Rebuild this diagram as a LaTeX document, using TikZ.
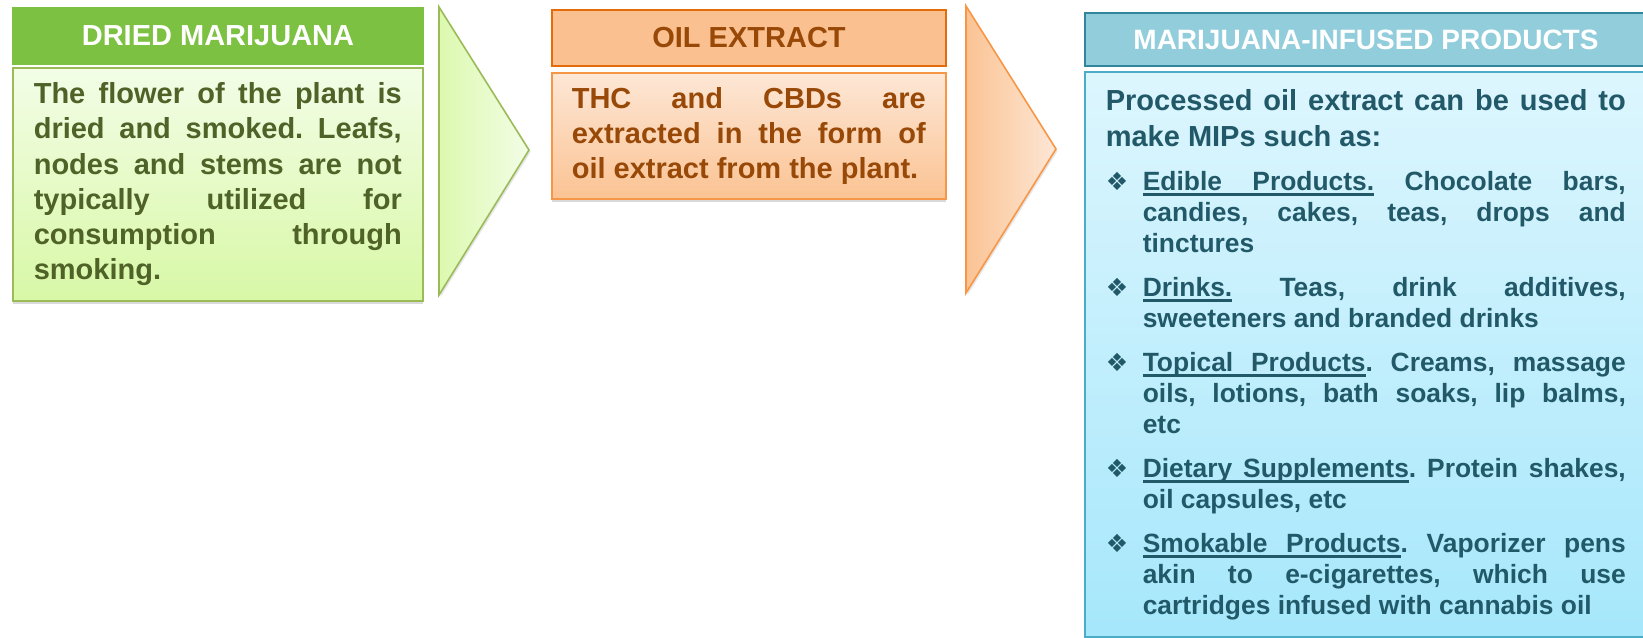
\documentclass[tikz,border=0pt]{standalone}
\usepackage{fontspec}
\setmainfont{Liberation Sans}
\newfontfamily\dingfont{DejaVu Sans}
\usetikzlibrary{positioning,shapes,shadows,fit}

\definecolor{leafhead}{HTML}{7DC142}
\definecolor{leafline}{HTML}{9BBB59}
\definecolor{leaftop}{HTML}{F3FDE7}
\definecolor{leafbot}{HTML}{D8F8A6}
\definecolor{leaftext}{HTML}{4F6228}
\definecolor{oilhead}{HTML}{FAC090}
\definecolor{oilline}{HTML}{E46C0A}
\definecolor{oilrim}{HTML}{F79646}
\definecolor{oiltop}{HTML}{FDE7D6}
\definecolor{oilbot}{HTML}{FBC393}
\definecolor{oiltext}{HTML}{984807}
\definecolor{miphead}{HTML}{92CDDC}
\definecolor{mipline}{HTML}{31859C}
\definecolor{miprim}{HTML}{4BACC6}
\definecolor{miptop}{HTML}{DDF6FE}
\definecolor{mipbot}{HTML}{A6E7FB}
\definecolor{miptext}{HTML}{215968}

\hbadness=10000
\tolerance=10000
\hyphenpenalty=10000
\exhyphenpenalty=10000
\frenchspacing

% underlined word and underlined (stretchable) space
\newcommand{\ulw}[1]{\setbox0\hbox{#1}\rlap{\vrule height -1.7pt depth 3.1pt width \wd0}\box0\relax}
\newcommand{\ulsp}{\leaders\hrule height -1.7pt depth 3.1pt\hskip\fontdimen2\font plus\fontdimen3\font minus\fontdimen4\font\relax}
\newcommand{\mipitem}[1]{\par\hangindent=18.5pt\hangafter=1\noindent
  \makebox[18.5pt][l]{\dingfont\fontsize{12.5}{12.5}\selectfont\char"2756}#1\par}

\tikzset{
  headbox/.style={anchor=north west, inner sep=0pt, minimum height=28pt,
    font=\fontsize{14.5}{17}\selectfont\bfseries, line width=1pt},
  bodybox/.style={anchor=north west, inner ysep=0pt, align=justify,
    font=\fontsize{14.5}{17.6}\selectfont\bfseries, line width=0.8pt,
    drop shadow={shadow xshift=0pt, shadow yshift=-1.5pt, opacity=0.3}},
  chevron/.style={line width=0.8pt,
    drop shadow={shadow xshift=0.8pt, shadow yshift=-1pt, opacity=0.2}}
}

\begin{document}
\begin{tikzpicture}[x=0.5pt, y=-0.5pt]
\useasboundingbox (0,0) rectangle (1643,637);

% dried marijuana
\node[headbox, fill=leafhead, draw=leafhead, text=white, minimum width=205pt] (leafhd) at (12,7) {DRIED MARIJUANA};
\node[bodybox, draw=leafline, top color=leaftop, bottom color=leafbot, text=leaftext,
  text width=184pt, inner xsep=10.5pt, minimum height=116.5pt] (leafbody) at (12,67)
  {The flower of the plant is\linebreak dried and smoked. Leafs,\linebreak nodes and stems are not\linebreak
   typically utilized for\linebreak consumption through\linebreak smoking.};
\draw[chevron, draw=leafline, left color=leafbot!90!white, right color=leaftop](439,7) -- (529,150) -- (439,295) -- cycle;

% oil extract
\node[headbox, fill=oilhead, draw=oilline, text=oiltext, minimum width=197pt] (oilhd) at (551,9) {OIL EXTRACT};
\node[bodybox, draw=oilrim, top color=oiltop, bottom color=oilbot, text=oiltext,
  text width=177pt, inner xsep=10pt, minimum height=63pt] (oilbody) at (551,72)
  {THC and CBDs are\linebreak extracted in the form of\linebreak oil extract from the plant.};
\draw[chevron, draw=oilrim, left color=oilbot, right color=oiltop](966,6) -- (1056,149) -- (966,293) -- cycle;

% marijuana-infused products
\node[headbox, fill=miphead, draw=mipline, text=white, minimum width=281pt, minimum height=26.5pt,
  font=\fontsize{14}{17}\selectfont\bfseries] (miphd) at (1084,12) {MARIJUANA-INFUSED PRODUCTS};
\node[bodybox, draw=miprim, top color=miptop, bottom color=mipbot, text=miptext,
  text width=260pt, inner xsep=10.5pt, minimum height=282.5pt] (mipbody) at (1084,71)
  {\setlength{\parskip}{6.5pt}%
   {\fontsize{14.5}{18}\selectfont Processed oil extract can be used to\linebreak make MIPs such as:\par}
   \fontsize{13.2}{15.5}\selectfont
   \mipitem{\ulw{Edible}\ulsp\ulw{Products.} Chocolate bars,\linebreak candies, cakes, teas, drops and\linebreak tinctures}
   \mipitem{\ulw{Drinks.} Teas, drink additives,\linebreak sweeteners and branded drinks}
   \mipitem{\ulw{Topical}\ulsp\ulw{Products}. Creams, massage\linebreak oils, lotions, bath soaks, lip balms,\linebreak etc}
   \mipitem{\ulw{Dietary}\ulsp\ulw{Supplements}. Protein shakes,\linebreak oil capsules, etc}
   \mipitem{\ulw{Smokable}\ulsp\ulw{Products}. Vaporizer pens\linebreak akin to e-cigarettes, which use\linebreak cartridges infused with cannabis oil}};
\end{tikzpicture}
\end{document}
